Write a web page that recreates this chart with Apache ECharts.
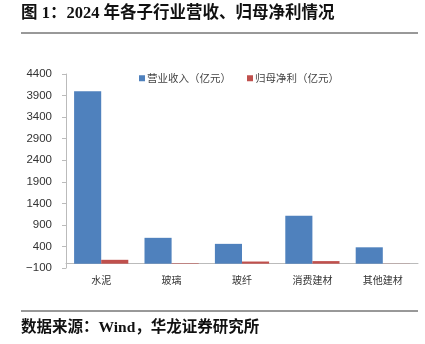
<!DOCTYPE html>
<html>
<head>
<meta charset="utf-8">
<script src="https://cdn.jsdelivr.net/npm/echarts@6/dist/echarts.min.js"></script>
<style>
  html, body { margin: 0; padding: 0; background: #fff; }
  #chart { width: 425px; height: 344px; }
</style>
</head>
<body>
<div id="chart"></div>
<script>
// 2024 子行业营收与归母净利（亿元）
const categories = ['水泥', '玻璃', '玻纤', '消费建材', '其他建材'];
const revenue = [4000, 600, 460, 1110, 380];
const netProfit = [90, 12, 50, 60, 3];
const seriesNames = ['营业收入（亿元）', '归母净利（亿元）'];
const yMin = -100, yMax = 4400, yStep = 500;

const cjk = '"Noto Sans CJK SC", sans-serif';
const chart = echarts.init(document.getElementById('chart'), null, { renderer: 'canvas' });

chart.setOption({
  animation: false,
  backgroundColor: '#ffffff',
  color: ['#4F81BD', '#C0504D'],
  graphic: [
    { type: 'text', left: 21, top: 5,
      style: { text: '图 1：2024 年各子行业营收、归母净利情况', fill: '#111',
               font: 'bold 16.5px "Liberation Serif", "Noto Sans CJK SC", serif' } },
    { type: 'line', shape: { x1: 21, y1: 33, x2: 418, y2: 33 },
      style: { stroke: '#333', lineWidth: 1 } },
    { type: 'line', shape: { x1: 21, y1: 311, x2: 418, y2: 311 },
      style: { stroke: '#333', lineWidth: 1 } },
    { type: 'text', left: 21, top: 320,
      style: { text: '数据来源：Wind，华龙证券研究所', fill: '#111',
               font: 'bold 15.5px "Liberation Serif", "Noto Sans CJK SC", serif' } }
  ],
  legend: {
    top: 68, left: 134,
    itemWidth: 6, itemHeight: 6, itemGap: 16,
    icon: 'rect',
    textStyle: { fontFamily: cjk, fontSize: 10.5, color: '#444', padding: [0, 0, 0, -3] },
    data: seriesNames
  },
  grid: { left: 66, right: 7, top: 74, bottom: 76, containLabel: false },
  xAxis: {
    type: 'category',
    data: categories,
    axisLine: { onZero: true, lineStyle: { color: '#bbb', width: 1 } },
    axisTick: { show: false },
    axisLabel: { fontFamily: cjk, fontSize: 10, color: '#333', margin: 7 }
  },
  yAxis: {
    type: 'value',
    min: yMin, max: yMax, interval: yStep,
    axisLine: { show: true, lineStyle: { color: '#bbb' } },
    axisTick: { show: true, length: 4, lineStyle: { color: '#bbb' } },
    splitLine: { show: false },
    axisLabel: {
      fontFamily: '"Liberation Sans", Arial, sans-serif', fontSize: 11.5, color: '#333', margin: 14,
      formatter: (v) => (v < 0 ? '\u2212' + Math.abs(v) : String(v))
    }
  },
  series: [
    { name: seriesNames[0], type: 'bar', data: revenue, barGap: '0%', barCategoryGap: '23%' },
    { name: seriesNames[1], type: 'bar', data: netProfit, barGap: '0%', barCategoryGap: '23%' }
  ]
});
</script>
</body>
</html>
